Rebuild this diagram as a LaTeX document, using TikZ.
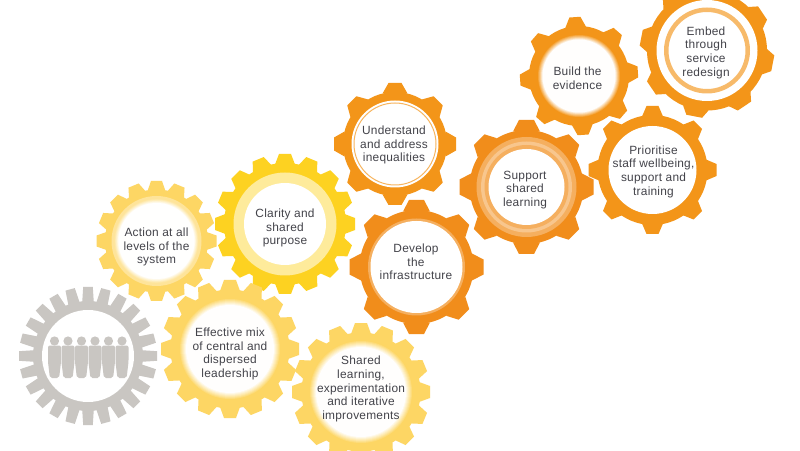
\documentclass[tikz,border=0pt]{standalone}
\usepackage{fontspec}
\setmainfont[LetterSpace=2]{Liberation Sans}
\definecolor{greygear}{HTML}{C9C6C2}
\definecolor{paleyellow}{HTML}{FDD664}
\definecolor{strongyellow}{HTML}{FDD221}
\definecolor{orangea}{HTML}{F39519}
\definecolor{orangeb}{HTML}{F18D1B}
\definecolor{textgrey}{HTML}{43434A}
\tikzset{
  x=1pt,y=1pt,
  gtext/.style={align=center,text=textgrey,font=\fontsize{11.9}{13.7}\selectfont,inner sep=0pt}
}
% centre x, centre y (pixels from top), root radius, tip radius, teeth, phase, tip half-width, base half-width, colour
\newcommand{\gearshape}[9]{%
  \begin{scope}[shift={(#1,450-#2)}]
    \fill[#9] (0,0) circle[radius=#3];
    \pgfmathsetmacro{\gstep}{360/#5}
    \foreach \gi in {1,...,#5}{%
      \pgfmathsetmacro{\gang}{#6+\gi*\gstep}
      \fill[#9,rotate=\gang] (#3-1.5,-#8) -- (#4,-#7) -- (#4,#7) -- (#3-1.5,#8) -- cycle;
    }
  \end{scope}}
% soft-edged disc: x, y, outer radius, inner radius, colour
\newcommand{\glowdisc}[5]{%
  \foreach \gk in {0,...,6}{%
    \pgfmathsetmacro{\grad}{#3-(#3-#4)*\gk/6}
    \pgfmathsetmacro{\gmix}{int(85-\gk*14)}
    \fill[#5!\gmix!white] (#1,450-#2) circle[radius=\grad];
  }}
\newcommand{\whitedisc}[3]{\fill[white] (#1,450-#2) circle[radius=#3];}
\begin{document}
\begin{tikzpicture}
\useasboundingbox (0,0) rectangle (800,450);
\clip (0,0) rectangle (800,450);
\fill[white] (0,0) rectangle (800,450);
% grey gear
\gearshape{88}{356}{55}{69}{24}{90}{4.8}{5.8}{greygear}
\whitedisc{88}{356}{46}
\foreach \px in {54.5,68,81.5,95,108.5,122}{%
  \fill[greygear] (\px,450-341) circle[radius=4.6];
  \fill[greygear,rounded corners=2pt] (\px-6.5,450-345.5) -- (\px+6.5,450-345.5) -- (\px+6.5,450-362) -- (\px+4.6,450-378) -- (\px-4.6,450-378) -- (\px-6.5,450-362) -- cycle;
}
% yellow gears
\gearshape{156.5}{241}{51.5}{60}{16}{90}{5.5}{9}{paleyellow}
\fill[paleyellow!65!white] (156.5,450-241) circle[radius=45];
\glowdisc{156.5}{241}{42}{38}{paleyellow!70!white}
\gearshape{285}{224}{61}{70}{16}{90}{6}{10}{strongyellow}
\fill[strongyellow!45!white] (285,450-224) circle[radius=51.5];
\whitedisc{285}{224}{41}
\gearshape{230}{349}{59.5}{69}{16}{90}{6}{10}{paleyellow}
\glowdisc{230}{349}{50}{44}{paleyellow}
\gearshape{361}{392}{59.5}{69}{16}{90}{6}{10}{paleyellow}
\glowdisc{361}{392}{51}{45}{paleyellow}
% orange gears
\gearshape{395}{144}{52}{61}{8}{90}{6.5}{12.5}{orangea}
\whitedisc{395}{144}{43.5}
\fill[orangea!70!white,even odd rule] (395,450-144) circle[radius=41.5] circle[radius=40.5];
\gearshape{416.5}{267}{57}{67}{8}{90}{7.5}{13.5}{orangeb}
\fill[orangeb!70!white] (416.5,450-267) circle[radius=48.5];
\whitedisc{416.5}{267}{46}
\gearshape{526.5}{187}{57}{67}{8}{90}{7.5}{13.5}{orangeb}
\fill[orangeb!70!white] (526.5,450-187) circle[radius=50];
\fill[orangeb!50!white] (526.5,450-187) circle[radius=45.5];
\fill[orangeb!70!white] (526.5,450-187) circle[radius=42];
\whitedisc{526.5}{187}{38}
\gearshape{579}{76}{50}{59}{8}{94}{5.5}{10.5}{orangea}
\glowdisc{579}{76}{41}{36.5}{orangea}
\gearshape{707}{50.5}{60}{67}{8}{79}{8}{13}{orangea}
\whitedisc{707}{50.5}{50.5}
\fill[orangea!65!white,even odd rule] (707,450-50.5) circle[radius=43] circle[radius=38.5];
\gearshape{652.5}{170}{55}{64}{8}{90}{6}{10.5}{orangea}
\whitedisc{652.5}{170}{44}
% labels
\node[gtext] (action) at (156.5,450-247) {Action at all\\levels of the\\system};
\node[gtext] (clarity) at (285,450-228) {Clarity and\\shared\\purpose};
\node[gtext] (mix) at (230,450-354) {Effective mix\\of central and\\dispersed\\leadership};
\node[gtext] (sharedl) at (361,450-389) {Shared\\learning,\\experimentation\\and iterative\\improvements};
\node[gtext] (ineq) at (394,450-145) {Understand\\and address\\inequalities};
\node[gtext] (infra) at (416,450-262) {Develop\\the\\infrastructure};
\node[gtext] (support) at (525,450-190) {Support\\shared\\learning};
\node[gtext] (evidence) at (577.5,450-78) {Build the\\evidence};
\node[gtext] (embed) at (706,450-52.5) {Embed\\through\\service\\redesign};
\node[gtext] (staff) at (653.5,450-171.5) {Prioritise\\staff wellbeing,\\support and\\training};
\end{tikzpicture}
\end{document}
